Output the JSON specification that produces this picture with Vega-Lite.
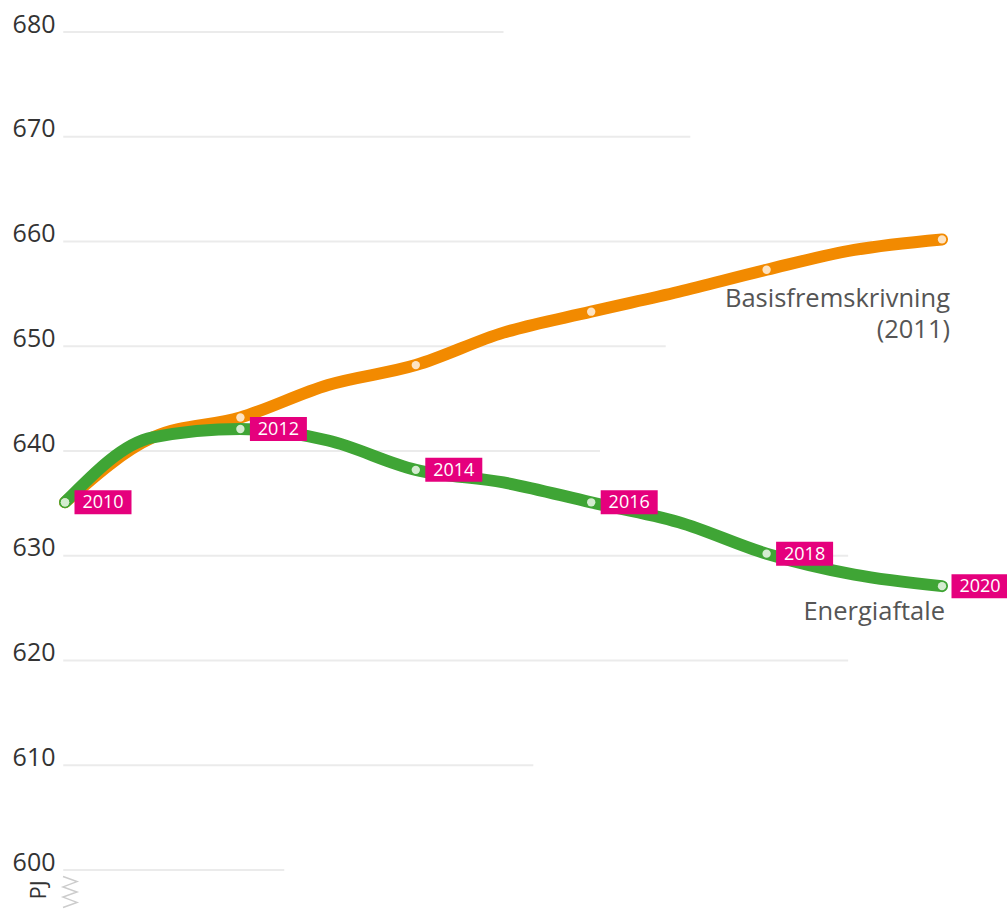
{
  "$schema": "https://vega.github.io/schema/vega-lite/v6.json",
  "autosize": {"type": "none"},
  "padding": {"left": 65, "top": 32, "right": 65, "bottom": 39},
  "width": 877,
  "height": 838,
  "background": "white",
  "config": {"view": {"stroke": null}, "font": "Open Sans"},
  "datasets": {
    "series": [
      {"year": 2010, "series": "Basisfremskrivning", "value": 635.1},
      {"year": 2011, "series": "Basisfremskrivning", "value": 641.3},
      {"year": 2012, "series": "Basisfremskrivning", "value": 643.2},
      {"year": 2013, "series": "Basisfremskrivning", "value": 646.3},
      {"year": 2014, "series": "Basisfremskrivning", "value": 648.2},
      {"year": 2015, "series": "Basisfremskrivning", "value": 651.3},
      {"year": 2016, "series": "Basisfremskrivning", "value": 653.3},
      {"year": 2017, "series": "Basisfremskrivning", "value": 655.2},
      {"year": 2018, "series": "Basisfremskrivning", "value": 657.3},
      {"year": 2019, "series": "Basisfremskrivning", "value": 659.2},
      {"year": 2020, "series": "Basisfremskrivning", "value": 660.2},
      {"year": 2010, "series": "Energiaftale", "value": 635.1},
      {"year": 2011, "series": "Energiaftale", "value": 641.3},
      {"year": 2012, "series": "Energiaftale", "value": 642.1},
      {"year": 2013, "series": "Energiaftale", "value": 641.0},
      {"year": 2014, "series": "Energiaftale", "value": 638.2},
      {"year": 2015, "series": "Energiaftale", "value": 637.0},
      {"year": 2016, "series": "Energiaftale", "value": 635.1},
      {"year": 2017, "series": "Energiaftale", "value": 633.2},
      {"year": 2018, "series": "Energiaftale", "value": 630.2},
      {"year": 2019, "series": "Energiaftale", "value": 628.2},
      {"year": 2020, "series": "Energiaftale", "value": 627.1}
    ],
    "gridlines": [
      {"value": 680, "start": 2009.98, "end": 2015.0},
      {"value": 670, "start": 2009.98, "end": 2017.13},
      {"value": 660, "start": 2009.98, "end": 2019.2},
      {"value": 650, "start": 2009.98, "end": 2016.85},
      {"value": 640, "start": 2009.98, "end": 2016.1},
      {"value": 630, "start": 2009.98, "end": 2018.93},
      {"value": 620, "start": 2009.98, "end": 2018.93},
      {"value": 610, "start": 2009.98, "end": 2015.34},
      {"value": 600, "start": 2009.98, "end": 2012.5}
    ],
    "names": [
      {"series": "Basisfremskrivning", "year": 2020, "value": 660.2, "label": "Basisfremskrivning\n(2011)"},
      {"series": "Energiaftale", "year": 2020, "value": 627.1, "label": "Energiaftale"}
    ],
    "unitlabel": [{"label": "PJ", "year": 2010, "value": 600}]
  },
  "encoding": {
    "x": {"field": "year", "type": "quantitative", "scale": {"domain": [2010, 2020], "nice": false, "zero": false}, "axis": null},
    "y": {"field": "value", "type": "quantitative", "scale": {"domain": [600, 680], "nice": false, "zero": false},
      "axis": {"title": null, "values": [600, 610, 620, 630, 640, 650, 660, 670, 680], "grid": false, "domain": false, "ticks": false, "tickSize": 0, "labelPadding": 10, "labelFontSize": 25, "labelColor": "#333333", "labelBaseline": "alphabetic", "labelFont": "Open Sans"}}
  },
  "layer": [
    {
      "data": {"name": "gridlines"},
      "mark": {"type": "rule", "color": "#ebebeb", "strokeWidth": 2},
      "encoding": {
        "x": {"field": "start", "type": "quantitative"},
        "x2": {"field": "end"},
        "y": {"field": "value", "type": "quantitative"}
      }
    },
    {
      "data": {"name": "series"},
      "transform": [{"filter": "datum.series === 'Basisfremskrivning'"}],
      "mark": {"type": "line", "color": "#f28a00", "strokeWidth": 12, "interpolate": "monotone", "strokeCap": "round", "strokeJoin": "round"},
      "encoding": {}
    },
    {
      "data": {"name": "series"},
      "transform": [{"filter": "datum.series === 'Energiaftale'"}],
      "mark": {"type": "line", "color": "#3fa535", "strokeWidth": 12, "interpolate": "monotone", "strokeCap": "round", "strokeJoin": "round"},
      "encoding": {}
    },
    {
      "data": {"name": "series"},
      "transform": [{"filter": "datum.year % 2 === 0"}],
      "mark": {"type": "point", "filled": true, "size": 70, "opacity": 1, "strokeWidth": 0},
      "encoding": {
        "color": {"field": "series", "type": "nominal", "scale": {"domain": ["Basisfremskrivning", "Energiaftale"], "range": ["#fde3c2", "#d4ecd0"]}, "legend": null}
      }
    },
    {
      "data": {"name": "series"},
      "transform": [{"filter": "datum.series === 'Energiaftale' && datum.year % 2 === 0"}],
      "mark": {"type": "rect", "color": "#e5007d", "width": 57, "height": 24, "xOffset": 38},
      "encoding": {}
    },
    {
      "data": {"name": "series"},
      "transform": [{"filter": "datum.series === 'Energiaftale' && datum.year % 2 === 0"}],
      "mark": {"type": "text", "color": "white", "fontSize": 18, "font": "Open Sans", "align": "center", "baseline": "middle", "dx": 38, "dy": 1},
      "encoding": {"text": {"field": "year", "type": "nominal"}}
    },
    {
      "data": {"name": "names"},
      "transform": [{"filter": "datum.series === 'Basisfremskrivning'"}],
      "mark": {"type": "text", "color": "#555555", "fontSize": 25.5, "font": "Open Sans", "align": "right", "baseline": "alphabetic", "dx": 8, "dy": 68, "lineBreak": "\n", "lineHeight": 31},
      "encoding": {"text": {"field": "label", "type": "nominal"}}
    },
    {
      "data": {"name": "names"},
      "transform": [{"filter": "datum.series === 'Energiaftale'"}],
      "mark": {"type": "text", "color": "#555555", "fontSize": 25.5, "font": "Open Sans", "align": "right", "baseline": "alphabetic", "dx": 3, "dy": 34},
      "encoding": {"text": {"field": "label", "type": "nominal"}}
    },
    {
      "data": {"name": "unitlabel"},
      "mark": {"type": "text", "color": "#333333", "fontSize": 22, "font": "Open Sans", "align": "center", "baseline": "middle", "angle": 270, "xOffset": -26, "yOffset": 20},
      "encoding": {
        "text": {"field": "label", "type": "nominal"}
      }
    },
    {
      "data": {"name": "unitlabel"},
      "mark": {"type": "point", "shape": "M-0.45,-1L0.45,-0.67L-0.45,-0.33L0.45,0L-0.45,0.33L0.45,0.67L-0.45,1", "filled": false, "stroke": "#cccccc", "strokeWidth": 1.5, "size": 961, "xOffset": 5, "yOffset": 22, "opacity": 1},
      "encoding": {}
    }
  ]
}
